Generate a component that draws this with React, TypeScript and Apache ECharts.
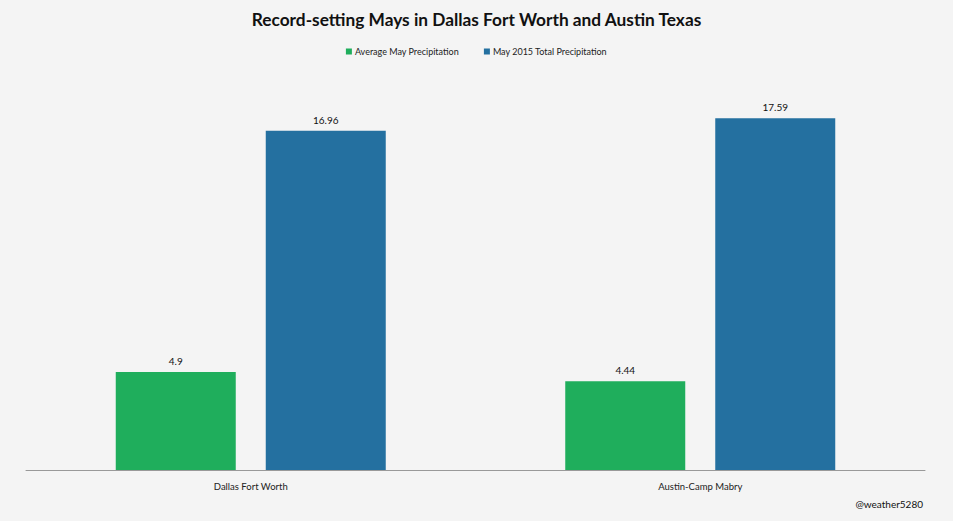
import React, { useEffect, useRef } from "react";
import * as echarts from "echarts";

const categories = ["Dallas Fort Worth", "Austin-Camp Mabry"];
const averageMay = [4.9, 4.44];
const may2015 = [16.96, 17.59];
const seriesNames = ["Average May Precipitation", "May 2015 Total Precipitation"];

export default function App() {
  const ref = useRef<HTMLDivElement>(null);
  useEffect(() => {
    document.body.style.margin = "0";
    document.body.style.background = "#f4f4f4";
    const chart = echarts.init(ref.current!, null, { renderer: "svg" });
    const font = "Lato, 'Open Sans', sans-serif";
    chart.setOption({
      animation: false,
      backgroundColor: "#f4f4f4",
      title: {
        text: "Record-setting Mays in Dallas Fort Worth and Austin Texas",
        left: "center",
        top: 6,
        textStyle: { fontFamily: font, fontWeight: "bold", fontSize: 17.3, color: "#111" },
      },
      legend: {
        top: 42,
        left: "center",
        itemWidth: 6,
        itemHeight: 6,
        itemGap: 25,
        icon: "rect",
        textStyle: { fontFamily: font, fontSize: 9, color: "#222", padding: [0, 0, 0, -2] },
        data: seriesNames,
      },
      grid: { left: 26, right: 28, top: 70, bottom: 51 },
      xAxis: {
        type: "category",
        data: categories,
        axisLine: { lineStyle: { color: "#999", width: 1 } },
        axisTick: { show: false },
        axisLabel: { fontFamily: font, fontSize: 9.5, color: "#222", margin: 11 },
      },
      yAxis: {
        type: "value",
        min: 0,
        max: 20,
        show: false,
      },
      series: [
        {
          name: seriesNames[0],
          type: "bar",
          data: averageMay,
          barWidth: 120,
          barGap: "25%",
          itemStyle: { color: "#1fae5c" },
          label: { show: true, position: "top", distance: 6, fontFamily: font, fontSize: 10, color: "#111" },
        },
        {
          name: seriesNames[1],
          type: "bar",
          data: may2015,
          barWidth: 120,
          barGap: "25%",
          itemStyle: { color: "#2470a0" },
          label: { show: true, position: "top", distance: 6, fontFamily: font, fontSize: 10, color: "#111" },
        },
      ],
      graphic: [
        {
          type: "text",
          right: 30,
          top: 499,
          style: { text: "@weather5280", fontFamily: font, fontSize: 10, fill: "#111" },
        },
      ],
    });
    return () => chart.dispose();
  }, []);
  return <div ref={ref} style={{ width: 953, height: 521 }} />;
}
